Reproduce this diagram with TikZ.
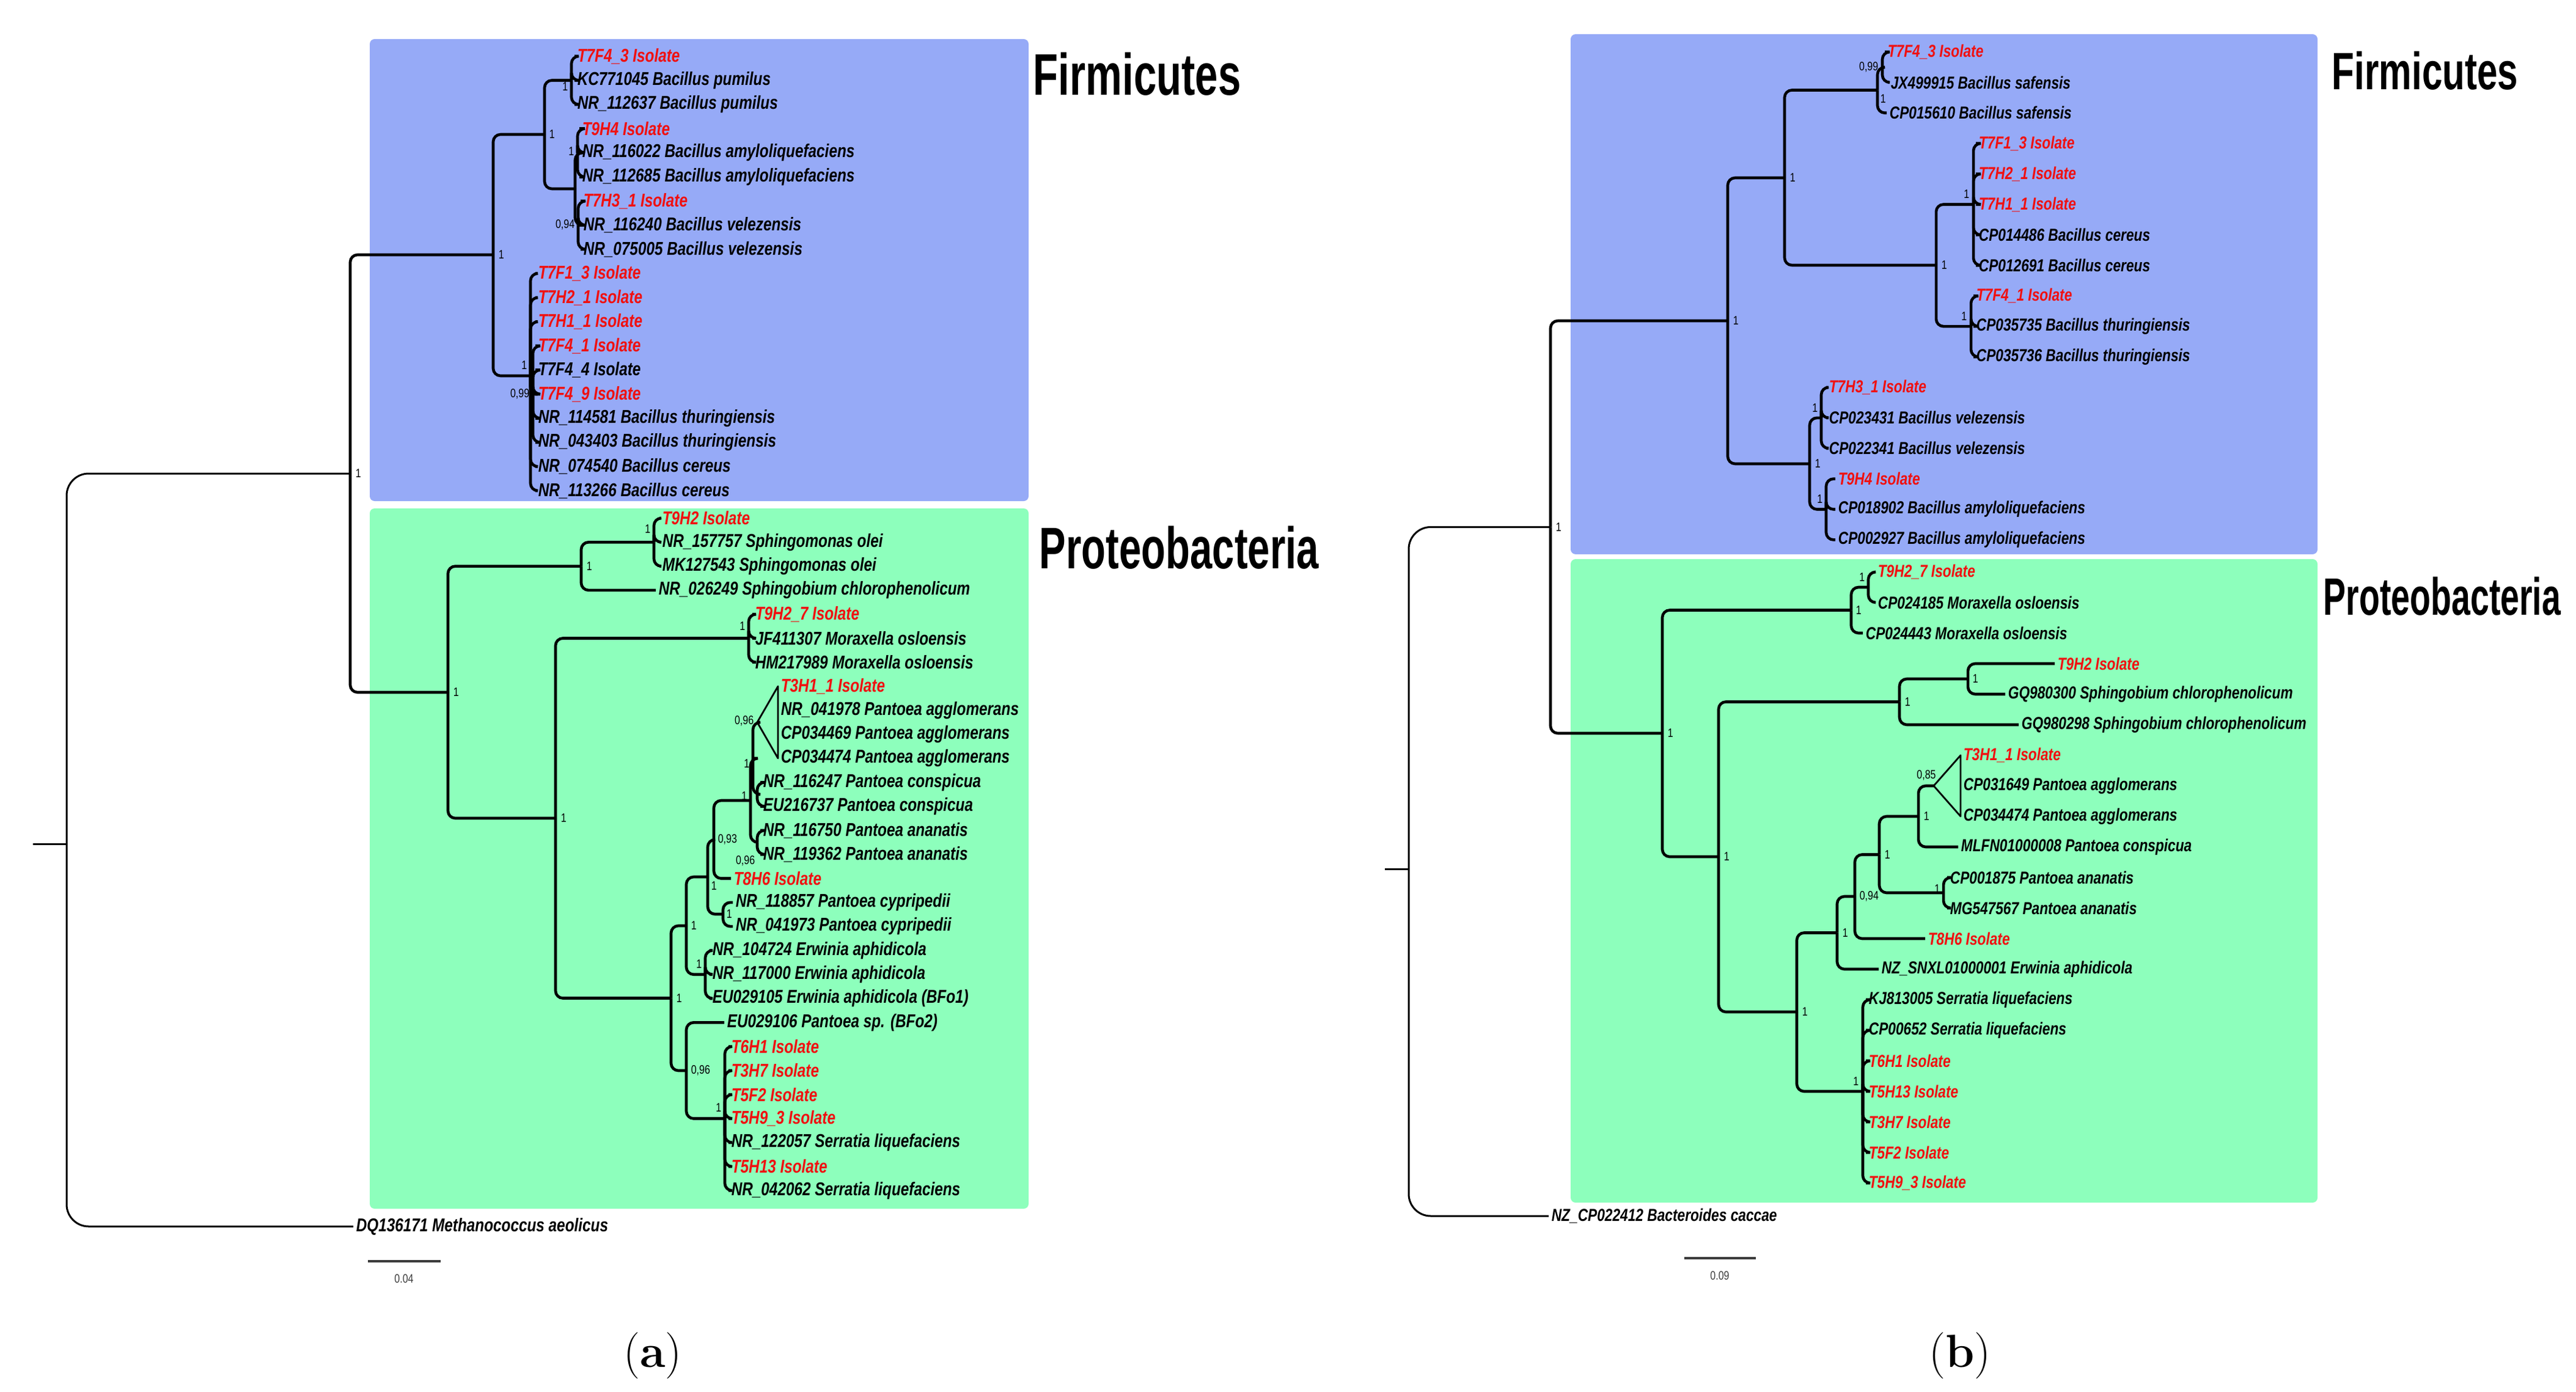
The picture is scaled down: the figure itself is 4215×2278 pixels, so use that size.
\documentclass[tikz,border=0pt]{standalone}
\usepackage{fontspec}
\newfontfamily\labfont[FakeStretch=0.8]{Liberation Sans}
\newfontfamily\titfont[FakeStretch=0.7]{Liberation Sans}
\newfontfamily\titfontpa[FakeStretch=0.68]{Liberation Sans}
\newfontfamily\titfontpb[FakeStretch=0.645]{Liberation Sans}
\definecolor{boxblue}{RGB}{150,170,247}
\definecolor{boxgreen}{RGB}{141,255,188}
\definecolor{isored}{RGB}{240,16,16}
\definecolor{scalegray}{RGB}{60,60,60}
\tikzset{
  br/.style={line width=1.15pt, rounded corners=3pt},
  rbr/.style={line width=0.75pt, rounded corners=9pt},
  fan/.style={line width=0.7pt, line join=round},
  lfa/.style={anchor=west, inner sep=1pt, font=\labfont\bfseries\itshape\fontsize{7.6}{8}\selectfont},
  lfb/.style={anchor=west, inner sep=1pt, font=\labfont\bfseries\itshape\fontsize{7.1}{8}\selectfont},
  iso/.style={text=isored},
  sup/.style={inner sep=0.5pt, font=\labfont\fontsize{5}{5}\selectfont},
  ttla/.style={anchor=west, inner sep=0pt, font=\titfont\bfseries\fontsize{24}{26}\selectfont},
  ttlpa/.style={anchor=west, inner sep=0pt, font=\titfontpa\bfseries\fontsize{24}{26}\selectfont},
  ttlb/.style={anchor=west, inner sep=0pt, font=\titfont\bfseries\fontsize{21.5}{24}\selectfont},
  ttlpb/.style={anchor=west, inner sep=0pt, font=\titfontpb\bfseries\fontsize{21.5}{24}\selectfont},
  panel/.style={inner sep=0pt, font=\fontsize{19}{21}\selectfont},
  bx/.style={rounded corners=2pt, draw=none},
}
\begin{document}
\begin{tikzpicture}[x=0.25pt, y=-0.25pt]
\useasboundingbox (0,0) rectangle (4215,2278);
% ---------- background boxes ----------
\fill[bx, boxblue] (605,64) rectangle (1683,820);
\fill[bx, boxgreen] (605,832) rectangle (1683,1978);
\fill[bx, boxblue] (2570,56) rectangle (3792,907);
\fill[bx, boxgreen] (2570,915) rectangle (3792,1968);
% ---------- titles ----------
\node[ttla] (tfa) at (1690,121) {Firmicutes};
\node[ttlpa] (tpa) at (1700,896) {Proteobacteria};
\node[ttlb] (tfb) at (3815,116) {Firmicutes};
\node[ttlpb] (tpb) at (3801,976) {Proteobacteria};
% =================== TREE (a) ===================
% Firmicutes leaves
\node[lfa,iso] (a1) at (940,92) {T7F4\_3 Isolate};
\node[lfa] (a2) at (940,131.5) {KC771045 Bacillus pumilus};
\node[lfa] (a3) at (940,171) {NR\_112637 Bacillus pumilus};
\node[lfa,iso] (a4) at (948,210.5) {T9H4 Isolate};
\node[lfa] (a5) at (948,250) {NR\_116022 Bacillus amyloliquefaciens};
\node[lfa] (a6) at (948,289.5) {NR\_112685 Bacillus amyloliquefaciens};
\node[lfa,iso] (a7) at (950,329) {T7H3\_1 Isolate};
\node[lfa] (a8) at (950,368.5) {NR\_116240 Bacillus velezensis};
\node[lfa] (a9) at (950,408) {NR\_075005 Bacillus velezensis};
\node[lfa,iso] (a10) at (876,447.5) {T7F1\_3 Isolate};
\node[lfa,iso] (a11) at (876,487) {T7H2\_1 Isolate};
\node[lfa,iso] (a12) at (876,526.5) {T7H1\_1 Isolate};
\node[lfa,iso] (a13) at (876,566) {T7F4\_1 Isolate};
\node[lfa] (a14) at (876,605.5) {T7F4\_4 Isolate};
\node[lfa,iso] (a15) at (876,645) {T7F4\_9 Isolate};
\node[lfa] (a16) at (876,684.5) {NR\_114581 Bacillus thuringiensis};
\node[lfa] (a17) at (876,724) {NR\_043403 Bacillus thuringiensis};
\node[lfa] (a18) at (876,763.5) {NR\_074540 Bacillus cereus};
\node[lfa] (a19) at (876,803) {NR\_113266 Bacillus cereus};
% Proteobacteria leaves
\node[lfa,iso] (p1) at (1079,848) {T9H2 Isolate};
\node[lfa] (p2) at (1079,887.3) {NR\_157757 Sphingomonas olei};
\node[lfa] (p3) at (1079,926.6) {MK127543 Sphingomonas olei};
\node[lfa] (p4) at (1073,965.9) {NR\_026249 Sphingobium chlorophenolicum};
\node[lfa,iso] (p5) at (1231,1005.2) {T9H2\_7 Isolate};
\node[lfa] (p6) at (1231,1044.5) {JF411307 Moraxella osloensis};
\node[lfa] (p7) at (1231,1083.8) {HM217989 Moraxella osloensis};
\node[lfa,iso] (p8) at (1273,1123.1) {T3H1\_1 Isolate};
\node[lfa] (p9) at (1273,1162.4) {NR\_041978 Pantoea agglomerans};
\node[lfa] (p10) at (1273,1201.7) {CP034469 Pantoea agglomerans};
\node[lfa] (p11) at (1273,1241) {CP034474 Pantoea agglomerans};
\node[lfa] (p12) at (1244,1280.3) {NR\_116247 Pantoea conspicua};
\node[lfa] (p13) at (1244,1319.6) {EU216737 Pantoea conspicua};
\node[lfa] (p14) at (1244,1358.9) {NR\_116750 Pantoea ananatis};
\node[lfa] (p15) at (1244,1398.2) {NR\_119362 Pantoea ananatis};
\node[lfa,iso] (p16) at (1196,1437.5) {T8H6 Isolate};
\node[lfa] (p17) at (1199,1476.8) {NR\_118857 Pantoea cypripedii};
\node[lfa] (p18) at (1199,1516.1) {NR\_041973 Pantoea cypripedii};
\node[lfa] (p19) at (1161,1555.4) {NR\_104724 Erwinia aphidicola};
\node[lfa] (p20) at (1161,1594.7) {NR\_117000 Erwinia aphidicola};
\node[lfa] (p21) at (1161,1634) {EU029105 Erwinia aphidicola (BFo1)};
\node[lfa] (p22) at (1185,1673.3) {EU029106 Pantoea sp. (BFo2)};
\node[lfa,iso] (p23) at (1192,1712.6) {T6H1 Isolate};
\node[lfa,iso] (p24) at (1192,1751.9) {T3H7 Isolate};
\node[lfa,iso] (p25) at (1192,1791.2) {T5F2 Isolate};
\node[lfa,iso] (p26) at (1192,1830.5) {T5H9\_3 Isolate};
\node[lfa] (p27) at (1192,1869.8) {NR\_122057 Serratia liquefaciens};
\node[lfa,iso] (p28) at (1192,1909.1) {T5H13 Isolate};
\node[lfa] (p29) at (1192,1948.4) {NR\_042062 Serratia liquefaciens};
\node[lfa] (aout) at (578,2007) {DQ136171 Methanococcus aeolicus};
% internal nodes (a)
\coordinate (apum) at (935,131.5);
\coordinate (aamy) at (945,250);
\coordinate (avel) at (946,368.5);
\coordinate (aamv) at (941,309);
\coordinate (aB) at (891,220);
\coordinate (ac99) at (872,645);
\coordinate (acer) at (868,615);
\coordinate (aA) at (807,417);
\coordinate (aolei) at (1070,887.3);
\coordinate (asph) at (951,926.6);
\coordinate (amor) at (1225,1044.5);
\coordinate (aagg) at (1239,1182);
\coordinate (acon) at (1239,1300);
\coordinate (aN1) at (1232,1241);
\coordinate (aana) at (1239,1378.5);
\coordinate (aN2) at (1228,1310);
\coordinate (aX) at (1168,1374);
\coordinate (acyp) at (1183,1496);
\coordinate (aG) at (1158,1435);
\coordinate (aerw) at (1154,1594.7);
\coordinate (aF) at (1123,1515);
\coordinate (aser) at (1186,1830.5);
\coordinate (aS) at (1123,1752);
\coordinate (aE) at (1098,1633.5);
\coordinate (aM) at (909,1339);
\coordinate (aP) at (733,1133);
\coordinate (aR1) at (573,775);
\coordinate (aroot) at (109,1381);
\coordinate (a0) at (54,1381);
% branches (a)
\foreach \c in {a1,a2,a3} \draw[br] (apum) |- (\c.west);
\foreach \c in {a4,a5,a6} \draw[br] (aamy) |- (\c.west);
\foreach \c in {a7,a8,a9} \draw[br] (avel) |- (\c.west);
\foreach \c in {aamy,avel} \draw[br] (aamv) |- (\c);
\foreach \c in {apum,aamv} \draw[br] (aB) |- (\c);
\foreach \c in {a13,a14,a15,a16,a17} \draw[br] (ac99) |- (\c.west);
\foreach \c in {a10,a11,a12,a18,a19} \draw[br] (acer) |- (\c.west);
\draw[br] (acer) |- (ac99);
\foreach \c in {aB,acer} \draw[br] (aA) |- (\c);
\foreach \c in {p1,p2,p3} \draw[br] (aolei) |- (\c.west);
\draw[br] (asph) |- (aolei);
\draw[br] (asph) |- (p4.west);
\foreach \c in {p5,p6,p7} \draw[br] (amor) |- (\c.west);
\draw[fan] (aagg) -- (p8.west) -- (p11.west) -- cycle;
\foreach \c in {p12,p13} \draw[br] (acon) |- (\c.west);
\foreach \c in {aagg,acon} \draw[br] (aN1) |- (\c);
\foreach \c in {p14,p15} \draw[br] (aana) |- (\c.west);
\foreach \c in {aN1,aana} \draw[br] (aN2) |- (\c);
\draw[br] (aX) |- (aN2);
\draw[br] (aX) |- (p16.west);
\foreach \c in {p17,p18} \draw[br] (acyp) |- (\c.west);
\foreach \c in {aX,acyp} \draw[br] (aG) |- (\c);
\foreach \c in {p19,p20,p21} \draw[br] (aerw) |- (\c.west);
\foreach \c in {aG,aerw} \draw[br] (aF) |- (\c);
\foreach \c in {p23,p24,p25,p26,p27,p28,p29} \draw[br] (aser) |- (\c.west);
\draw[br] (aS) |- (p22.west);
\draw[br] (aS) |- (aser);
\foreach \c in {aF,aS} \draw[br] (aE) |- (\c);
\foreach \c in {amor,aE} \draw[br] (aM) |- (\c);
\foreach \c in {asph,aM} \draw[br] (aP) |- (\c);
\foreach \c in {aA,aP} \draw[br] (aR1) |- (\c);
\draw[rbr] (aroot) |- (aR1);
\draw[rbr] (aroot) |- (aout.west);
\draw[rbr] (a0) -- (aroot);
% support values (a)
\node[sup,anchor=east] (sapum) at (932,142) {1};
\node[sup,anchor=east] (saamy) at (942,248) {1};
\node[sup,anchor=east] (savel) at (943,368) {0,94};
\node[sup,anchor=west] (saB) at (896,220) {1};
\node[sup,anchor=east] (sac99) at (869,645) {0,99};
\node[sup,anchor=east] (sacer) at (865,598) {1};
\node[sup,anchor=west] (saA) at (813,417) {1};
\node[sup,anchor=east] (saolei) at (1067,866) {1};
\node[sup,anchor=west] (sasph) at (957,926.6) {1};
\node[sup,anchor=east] (samor) at (1222,1025) {1};
\node[sup,anchor=east] (saagg) at (1236,1180) {0,96};
\node[sup,anchor=east] (saN1) at (1229,1250) {1};
\node[sup,anchor=north east] (saana) at (1238,1398) {0,96};
\node[sup,anchor=east] (saN2) at (1225,1303) {1};
\node[sup,anchor=west] (saX) at (1172,1374) {0,93};
\node[sup,anchor=west] (sacyp) at (1186,1496) {1};
\node[sup,anchor=north west] (saG) at (1161,1440) {1};
\node[sup,anchor=east] (saerw) at (1151,1578) {1};
\node[sup,anchor=west] (saF) at (1128,1515) {1};
\node[sup,anchor=east] (saser) at (1183,1813) {1};
\node[sup,anchor=west] (saS) at (1128,1752) {0,96};
\node[sup,anchor=west] (saE) at (1104,1633.5) {1};
\node[sup,anchor=west] (saM) at (915,1339) {1};
\node[sup,anchor=west] (saP) at (739,1133) {1};
\node[sup,anchor=west] (saR1) at (579,775) {1};
% scale bar (a)
\coordinate (sa1) at (602,2064);
\coordinate (sa2) at (721,2064);
\draw[line width=0.8pt, scalegray] (sa1) -- (sa2);
\node[sup, text=scalegray] (sal) at (661,2093) {0.04};
\node[panel] (pa) at (1068,2219) {(\textbf{a})};
% =================== TREE (b) ===================
\node[lfb,iso] (q1) at (3084,85) {T7F4\_3 Isolate};
\node[lfb] (q2) at (3089,134.9) {JX499915 Bacillus safensis};
\node[lfb] (q3) at (3087,184.8) {CP015610 Bacillus safensis};
\node[lfb,iso] (q4) at (3233,234.7) {T7F1\_3 Isolate};
\node[lfb,iso] (q5) at (3233,284.6) {T7H2\_1 Isolate};
\node[lfb,iso] (q6) at (3233,334.5) {T7H1\_1 Isolate};
\node[lfb] (q7) at (3233,384.4) {CP014486 Bacillus cereus};
\node[lfb] (q8) at (3233,434.3) {CP012691 Bacillus cereus};
\node[lfb,iso] (q9) at (3229,484.2) {T7F4\_1 Isolate};
\node[lfb] (q10) at (3229,534.1) {CP035735 Bacillus thuringiensis};
\node[lfb] (q11) at (3229,584) {CP035736 Bacillus thuringiensis};
\node[lfb,iso] (q12) at (2988,633.9) {T7H3\_1 Isolate};
\node[lfb] (q13) at (2988,683.8) {CP023431 Bacillus velezensis};
\node[lfb] (q14) at (2988,733.7) {CP022341 Bacillus velezensis};
\node[lfb,iso] (q15) at (3003,783.6) {T9H4 Isolate};
\node[lfb] (q16) at (3003,833.5) {CP018902 Bacillus amyloliquefaciens};
\node[lfb] (q17) at (3003,883.4) {CP002927 Bacillus amyloliquefaciens};
\node[lfb,iso] (r1) at (3068,936) {T9H2\_7 Isolate};
\node[lfb] (r2) at (3068,986) {CP024185 Moraxella osloensis};
\node[lfb] (r3) at (3048,1036) {CP024443 Moraxella osloensis};
\node[lfb,iso] (r4) at (3362,1086) {T9H2 Isolate};
\node[lfb] (r5) at (3281,1136) {GQ980300 Sphingobium chlorophenolicum};
\node[lfb] (r6) at (3303,1186) {GQ980298 Sphingobium chlorophenolicum};
\node[lfb,iso] (r7) at (3208,1236) {T3H1\_1 Isolate};
\node[lfb] (r8) at (3208,1286) {CP031649 Pantoea agglomerans};
\node[lfb] (r9) at (3208,1336) {CP034474 Pantoea agglomerans};
\node[lfb] (r10) at (3204,1386) {MLFN01000008 Pantoea conspicua};
\node[lfb] (r11) at (3186,1436) {CP001875 Pantoea ananatis};
\node[lfb] (r12) at (3186,1486) {MG547567 Pantoea ananatis};
\node[lfb,iso] (r13) at (3150,1536) {T8H6 Isolate};
\node[lfb] (r14) at (3074,1586) {NZ\_SNXL01000001 Erwinia aphidicola};
\node[lfb] (r15) at (3053,1636) {KJ813005 Serratia liquefaciens};
\node[lfb] (r16) at (3053,1686) {CP00652 Serratia liquefaciens};
\node[lfb,iso] (r17) at (3053,1736) {T6H1 Isolate};
\node[lfb,iso] (r18) at (3053,1786) {T5H13 Isolate};
\node[lfb,iso] (r19) at (3053,1836) {T3H7 Isolate};
\node[lfb,iso] (r20) at (3053,1886) {T5F2 Isolate};
\node[lfb,iso] (r21) at (3053,1936) {T5H9\_3 Isolate};
\node[lfb] (bout) at (2534,1990) {NZ\_CP022412 Bacteroides caccae};
% internal nodes (b)
\coordinate (bs99) at (3080,110);
\coordinate (bsaf) at (3072,147.5);
\coordinate (bcer) at (3229,334.5);
\coordinate (bthu) at (3225,534.1);
\coordinate (bC1) at (3168,434);
\coordinate (bB1) at (2920,291);
\coordinate (bvel) at (2980,683.8);
\coordinate (bamy) at (2988,833.5);
\coordinate (bV) at (2961,759);
\coordinate (bF1) at (2827,525);
\coordinate (bm1) at (3057,961);
\coordinate (bmor) at (3029,998.5);
\coordinate (bsph2) at (3220,1111);
\coordinate (bsph) at (3108,1148.5);
\coordinate (bagg) at (3164,1286);
\coordinate (bE6) at (3139,1336);
\coordinate (bana) at (3180,1461);
\coordinate (bE5) at (3075,1398.5);
\coordinate (bE4) at (3035,1467);
\coordinate (bE3) at (3006,1526.5);
\coordinate (bser) at (3048,1786);
\coordinate (bE2) at (2940,1656);
\coordinate (bQ) at (2812,1402);
\coordinate (bP2) at (2720,1200);
\coordinate (bR2) at (2537,862.5);
\coordinate (broot) at (2305,1422);
\coordinate (b0) at (2266,1422);
% branches (b)
\foreach \c in {q1,q2} \draw[br] (bs99) |- (\c.west);
\draw[br] (bsaf) |- (bs99);
\draw[br] (bsaf) |- (q3.west);
\foreach \c in {q4,q5,q6,q7,q8} \draw[br] (bcer) |- (\c.west);
\foreach \c in {q9,q10,q11} \draw[br] (bthu) |- (\c.west);
\foreach \c in {bcer,bthu} \draw[br] (bC1) |- (\c);
\foreach \c in {bsaf,bC1} \draw[br] (bB1) |- (\c);
\foreach \c in {q12,q13,q14} \draw[br] (bvel) |- (\c.west);
\foreach \c in {q15,q16,q17} \draw[br] (bamy) |- (\c.west);
\foreach \c in {bvel,bamy} \draw[br] (bV) |- (\c);
\foreach \c in {bB1,bV} \draw[br] (bF1) |- (\c);
\foreach \c in {r1,r2} \draw[br] (bm1) |- (\c.west);
\draw[br] (bmor) |- (bm1);
\draw[br] (bmor) |- (r3.west);
\foreach \c in {r4,r5} \draw[br] (bsph2) |- (\c.west);
\draw[br] (bsph) |- (bsph2);
\draw[br] (bsph) |- (r6.west);
\draw[fan] (bagg) -- (r7.west) -- (r9.west) -- cycle;
\draw[br] (bE6) |- (bagg);
\draw[br] (bE6) |- (r10.west);
\foreach \c in {r11,r12} \draw[br] (bana) |- (\c.west);
\foreach \c in {bE6,bana} \draw[br] (bE5) |- (\c);
\draw[br] (bE4) |- (bE5);
\draw[br] (bE4) |- (r13.west);
\draw[br] (bE3) |- (bE4);
\draw[br] (bE3) |- (r14.west);
\foreach \c in {r15,r16,r17,r18,r19,r20,r21} \draw[br] (bser) |- (\c.west);
\foreach \c in {bE3,bser} \draw[br] (bE2) |- (\c);
\foreach \c in {bsph,bE2} \draw[br] (bQ) |- (\c);
\foreach \c in {bmor,bQ} \draw[br] (bP2) |- (\c);
\foreach \c in {bF1,bP2} \draw[br] (bR2) |- (\c);
\draw[rbr] (broot) |- (bR2);
\draw[rbr] (broot) |- (bout.west);
\draw[rbr] (b0) -- (broot);
% support values (b)
\node[sup,anchor=east] (sbs99) at (3076,110) {0,99};
\node[sup,anchor=north west] (sbsaf) at (3074,152) {1};
\node[sup,anchor=east] (sbcer) at (3225,318) {1};
\node[sup,anchor=east] (sbthu) at (3221,518) {1};
\node[sup,anchor=west] (sbC1) at (3174,434) {1};
\node[sup,anchor=west] (sbB1) at (2926,291) {1};
\node[sup,anchor=east] (sbvel) at (2977,668) {1};
\node[sup,anchor=east] (sbamy) at (2985,817) {1};
\node[sup,anchor=west] (sbV) at (2967,759) {1};
\node[sup,anchor=west] (sbF1) at (2833,525) {1};
\node[sup,anchor=east] (sbm1) at (3054,945) {1};
\node[sup,anchor=west] (sbmor) at (3034,998.5) {1};
\node[sup,anchor=west] (sbsph2) at (3225,1111) {1};
\node[sup,anchor=west] (sbsph) at (3114,1148.5) {1};
\node[sup,anchor=south] (sbagg) at (3152,1280) {0,85};
\node[sup,anchor=west] (sbE6) at (3145,1336) {1};
\node[sup,anchor=east] (sbana) at (3177,1455) {1};
\node[sup,anchor=west] (sbE5) at (3081,1398.5) {1};
\node[sup,anchor=west] (sbE4) at (3040,1467) {0,94};
\node[sup,anchor=west] (sbE3) at (3012,1526.5) {1};
\node[sup,anchor=east] (sbser) at (3044,1770) {1};
\node[sup,anchor=west] (sbE2) at (2946,1656) {1};
\node[sup,anchor=west] (sbQ) at (2818,1402) {1};
\node[sup,anchor=west] (sbP2) at (2726,1200) {1};
\node[sup,anchor=west] (sbR2) at (2543,862.5) {1};
% scale bar (b)
\coordinate (sb1) at (2756,2059);
\coordinate (sb2) at (2873,2059);
\draw[line width=0.8pt, scalegray] (sb1) -- (sb2);
\node[sup, text=scalegray] (sbl) at (2814,2088) {0.09};
\node[panel] (pb) at (3207,2219) {(\textbf{b})};
\end{tikzpicture}
\end{document}
